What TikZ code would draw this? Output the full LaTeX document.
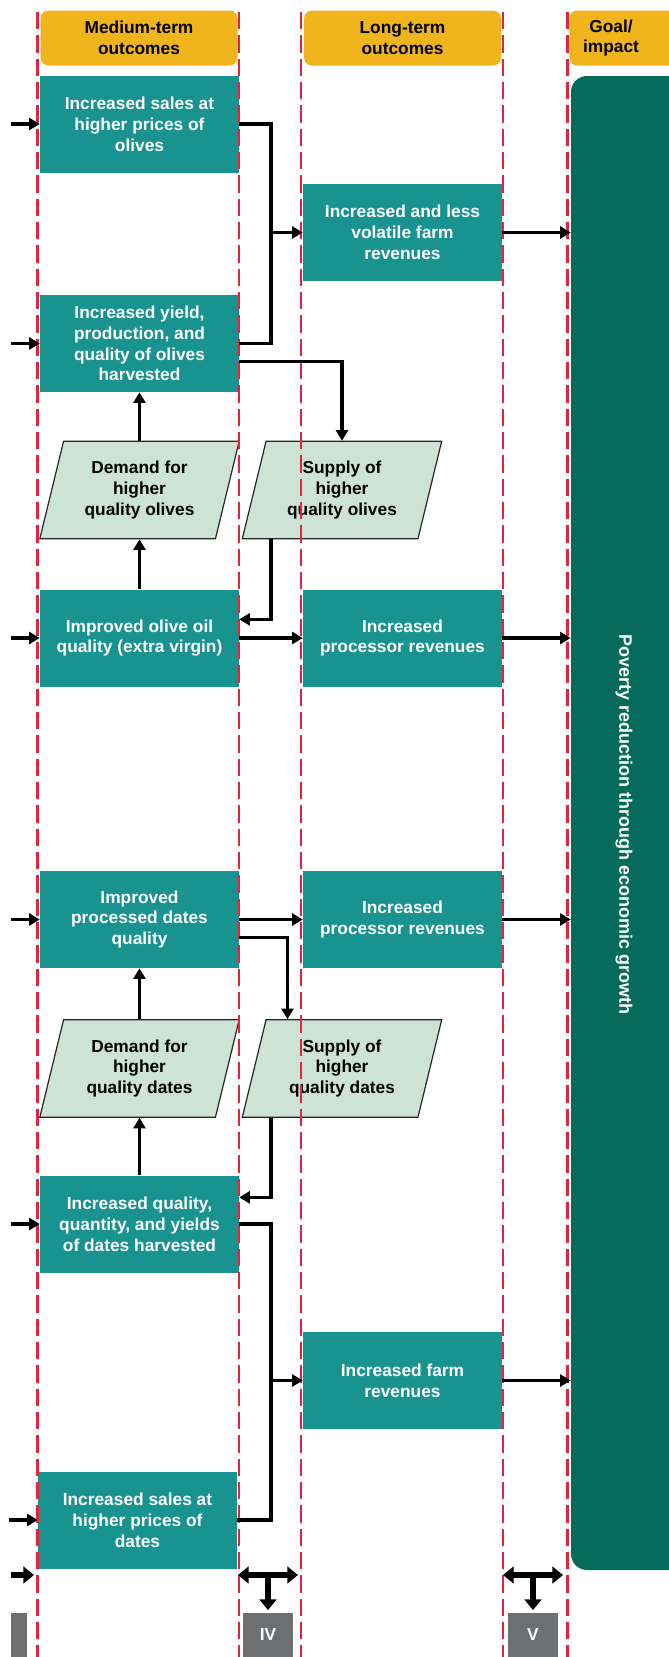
\documentclass[tikz,border=0pt]{standalone}
\usepackage{fontspec}
\setmainfont{Liberation Sans}
\usetikzlibrary{arrows.meta, shapes.geometric}

\definecolor{boxteal}{RGB}{24,147,143}
\definecolor{goalgreen}{RGB}{7,107,91}
\definecolor{headyellow}{RGB}{240,180,28}
\definecolor{condgreen}{RGB}{205,227,213}
\definecolor{lanered}{RGB}{230,35,60}
\definecolor{stagegray}{RGB}{109,111,113}

\newcommand\boxfont{\fontsize{13}{15.6}\selectfont\bfseries}
\newcommand\goalfont{\fontsize{13.5}{16}\selectfont\bfseries}

\tikzset{
  outcome/.style={fill=boxteal, text=white, font=\boxfont, align=center,
    minimum width=149.25pt, minimum height=72.75pt, inner sep=1pt},
  header/.style={fill=headyellow, rounded corners=6pt, font=\boxfont,
    align=center, minimum width=147.75pt, minimum height=41.25pt},
  condition/.style={trapezium, trapezium left angle=76, trapezium right angle=104,
    trapezium stretches body, draw=black!85, line width=0.9pt, fill=condgreen,
    font=\boxfont, align=center, minimum width=149.5pt, minimum height=73pt,
    inner xsep=1pt, inner ysep=14pt},
  flow/.style={line width=2.7pt, -{Triangle[length=8pt,width=9pt]}},
  wire/.style={line width=2.7pt},
  lane/.style={draw=lanered, line width=1.7pt, dash pattern=on 13pt off 4.5pt},
  bigflow/.style={line width=3.8pt, -{Triangle[length=8pt,width=12.5pt]}},
  bigboth/.style={line width=3.8pt,
    {Triangle[length=8pt,width=12.5pt]}-{Triangle[length=8pt,width=12.5pt]}},
  stage/.style={fill=stagegray, text=white, font=\boxfont,
    minimum width=37.5pt, minimum height=33pt, inner sep=0pt},
}

\begin{document}
\begin{tikzpicture}[x=0.75pt, y=-0.75pt]
  \useasboundingbox (0,0) rectangle (668,1657);

  % column heads
  \node[header] (hmid) at (139,38) {Medium-term\\outcomes};
  \node[header] (hlong) at (402.5,38) {Long-term\\outcomes};
  \node[header, minimum width=113.25pt, anchor=west] (hgoal) at (569,38) {};
  \node[font=\boxfont, align=center] (hgoaltxt) at (611,38) {Goal/\\impact};

  % goal
  \node[fill=goalgreen, rounded corners=12pt, minimum width=96.75pt,
    minimum height=1120.5pt] (goal) at (635.5,823) {};
  \node[rotate=-90, text=white, font=\goalfont] (goaltxt) at (624,824)
    {Poverty reduction through economic growth};

  % olives
  \node[outcome] (salesol) at (139.5,124) {Increased sales at\\higher prices of\\olives};
  \node[outcome] (farmol) at (402.5,232.5) {Increased and less\\volatile farm\\revenues};
  \node[outcome] (yieldol) at (139.5,343.5) {Increased yield,\\production, and\\quality of olives\\harvested};
  \node[condition] (demol) at (139.5,490) {Demand for\\higher\\quality olives};
  \node[condition] (supol) at (342,490) {Supply of\\higher\\quality olives};
  \node[outcome] (oil) at (139.5,638) {Improved olive oil\\quality (extra virgin)};
  \node[outcome] (procol) at (402.5,638) {Increased\\processor revenues};

  % dates
  \node[outcome] (dateq) at (139.5,919.5) {Improved\\processed dates\\quality};
  \node[outcome] (procda) at (402.5,919.5) {Increased\\processor revenues};
  \node[condition] (demda) at (139.5,1068.5) {Demand for\\higher\\quality dates};
  \node[condition] (supda) at (342,1068.5) {Supply of\\higher\\quality dates};
  \node[outcome] (yieldda) at (139.5,1224) {Increased quality,\\quantity, and yields\\of dates harvested};
  \node[outcome] (farmda) at (402.5,1380.5) {Increased farm\\revenues};
  \node[outcome] (salesda) at (137.5,1520) {Increased sales at\\higher prices of\\dates};

  % lanes
  \foreach \lx in {37.5,239,301,503,567.5}
    \draw[lane] (\lx,12) -- (\lx,1657);

  % olive links
  \coordinate (olbus) at (271,232.5);
  \draw[wire] (salesol.east) -| (olbus) |- (yieldol.east);
  \draw[flow] (olbus) -- (farmol.west);
  \draw[flow] (farmol.east) -- (farmol.east -| goal.west);
  \draw[flow] ([yshift=-13.5pt]yieldol.east) -| (supol.center |- supol.north);
  \draw[flow] (demol.center |- demol.north) -- (yieldol.south);
  \draw[flow] (oil.north) -- (demol.center |- demol.south);
  \draw[flow] (olbus |- supol.south) |- ([yshift=14pt]oil.east);
  \draw[flow] (oil.east) -- (procol.west);
  \draw[flow] (procol.east) -- (procol.east -| goal.west);

  % date links
  \coordinate (dabus) at (271,1380.5);
  \coordinate (dadrop) at (287.5,1000);
  \draw[flow] (dateq.east) -- (procda.west);
  \draw[flow] (procda.east) -- (procda.east -| goal.west);
  \draw[flow] ([yshift=-13.5pt]dateq.east) -| (dadrop |- supda.north);
  \draw[flow] (demda.center |- demda.north) -- (dateq.south);
  \draw[flow] (yieldda.north) -- (demda.center |- demda.south);
  \draw[flow] (dabus |- supda.south) |- ([yshift=20pt]yieldda.east);
  \draw[wire] (yieldda.east) -| (dabus) |- (salesda.east);
  \draw[flow] (dabus) -- (farmda.west);
  \draw[flow] (farmda.east) -- (farmda.east -| goal.west);

  % inputs from the left
  \foreach \n in {salesol,yieldol,oil,dateq,yieldda,salesda} {
    \path (\n.west) ++(-29,0) coordinate (in\n);
    \draw[flow] (in\n) -- (\n.west);
  }

  % stage markers
  \coordinate (feedL) at (11,1575);
  \coordinate (feedR) at (34,1575);
  \draw[bigflow] (feedL) -- (feedR);
  \node[stage, minimum width=12pt, anchor=north west] (stIII) at (11,1613) {};

  \coordinate (ivL) at (238,1575);
  \coordinate (ivR) at (298,1575);
  \coordinate (ivM) at (268,1575);
  \draw[bigboth] (ivL) -- (ivR);
  \node[stage] (stIV) at (268,1635) {IV};
  \draw[bigflow, shorten >=2pt] (ivM) -- (stIV.north);

  \coordinate (vL) at (503,1575);
  \coordinate (vR) at (563,1575);
  \coordinate (vM) at (533,1575);
  \draw[bigboth] (vL) -- (vR);
  \node[stage] (stV) at (533,1635) {V};
  \draw[bigflow, shorten >=2pt] (vM) -- (stV.north);
\end{tikzpicture}
\end{document}
